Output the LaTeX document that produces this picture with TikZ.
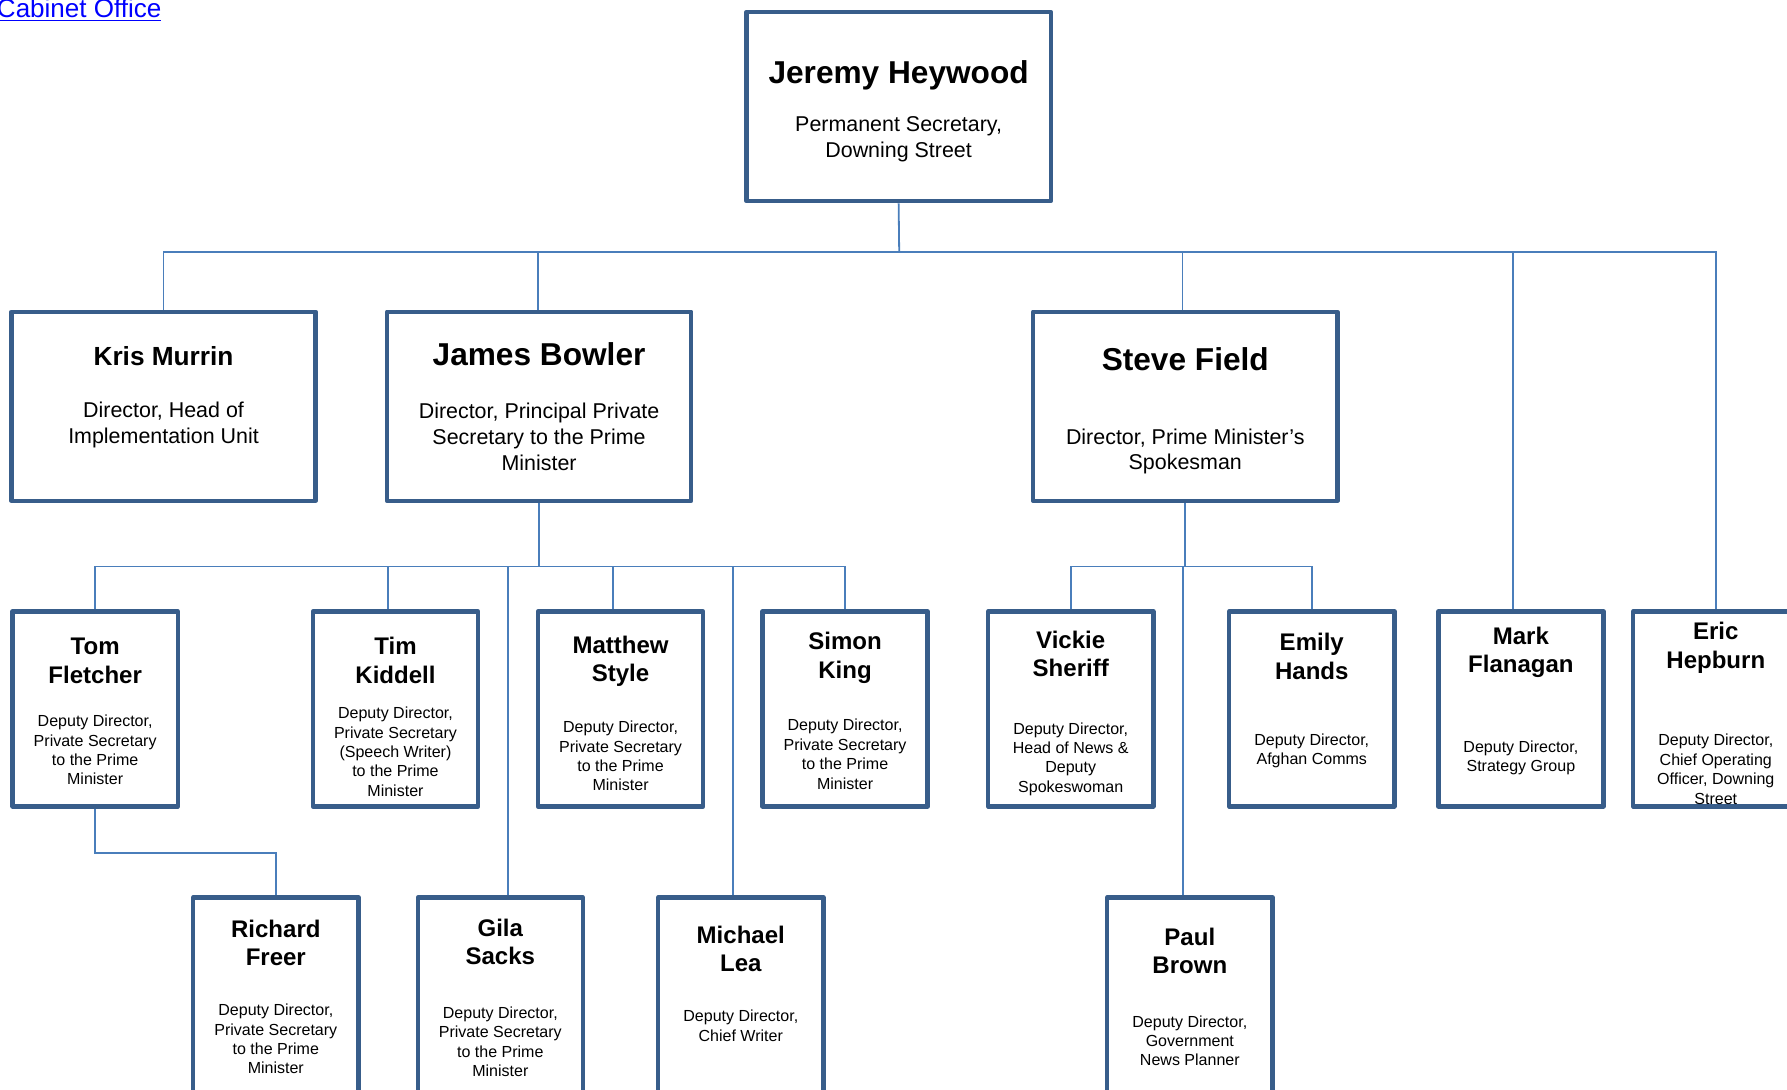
\documentclass[tikz,border=0pt]{standalone}
\usepackage{fontspec}
\setmainfont{Liberation Sans}
\definecolor{boxblue}{HTML}{385D8A}
\definecolor{lineblue}{HTML}{4A7EBB}
\definecolor{linkblue}{HTML}{0000FF}
\newcommand\bigname{\fontsize{15.8}{18.5}\selectfont\bfseries}
\newcommand\midname{\fontsize{13.1}{15.5}\selectfont\bfseries}
\newcommand\midrole{\fontsize{10.7}{12.8}\selectfont}
\newcommand\smallname{\fontsize{12}{14.2}\selectfont\bfseries}
\newcommand\smallrole{\fontsize{8}{9.7}\selectfont}
% extra space under the text, moves it up (or down, if negative)
\newcommand\textlift[1]{\par\vspace{#1}\hrule height0pt width0pt}
\begin{document}
\begin{tikzpicture}[x=0.02cm, y=-0.02cm,
    chief/.style={draw=boxblue, line width=2.2pt, line join=round, fill=white, minimum width=5.34cm, minimum height=3.32cm, text width=5cm, align=flush center, inner sep=0.05cm},
    deputy/.style={draw=boxblue, line width=2.2pt, line join=round, fill=white, minimum width=2.9cm, minimum height=3.42cm, text width=2.7cm, align=flush center, inner sep=0.05cm},
    link/.style={draw=lineblue, line width=0.9pt}]
    \useasboundingbox (0,0) rectangle (1568,956);
    \clip (0,0) rectangle (1568,956);

    \node[anchor=base west, inner sep=0pt, text=linkblue, font=\fontsize{13}{15}\selectfont] (cablink) at (-3,15) {\underline{Cabinet Office}};

    % top of the tree
    \node[chief] (heywood) at (788.5,93.5) {{\bigname Jeremy Heywood\par}\vspace{11.2pt}{\midrole Permanent Secretary,\\Downing Street\par}\textlift{-4.5pt}};

    \node[chief] (murrin) at (143.5,356.5) {{\midname Kris Murrin\par}\vspace{13.4pt}{\midrole Director, Head of\\Implementation Unit\par}\textlift{9.1pt}};
    \node[chief] (bowler) at (473,356.5) {{\bigname James Bowler\par}\vspace{14pt}{\midrole Director, Principal Private\\Secretary to the Prime\\Minister\par}};
    \node[chief] (field) at (1040,356.5) {{\bigname Steve Field\par}\vspace{24.2pt}{\midrole Director, Prime Minister’s\\Spokesman\par}\textlift{-4.5pt}};

    % deputy directors
    \node[deputy] (fletcher) at (83.5,622) {{\smallname Tom\\Fletcher\par}\vspace{11.9pt}{\smallrole Deputy Director,\\Private Secretary\\to the Prime\\Minister\par}\textlift{-2.8pt}};
    \node[deputy] (kiddell) at (347,622) {{\smallname Tim\\Kiddell\par}\vspace{8pt}{\smallrole Deputy Director,\\Private Secretary\\(Speech Writer)\\to the Prime\\Minister\par}\textlift{-8pt}};
    \node[deputy] (mstyle) at (544.5,622) {{\smallname Matthew\\Style\par}\vspace{15.9pt}{\smallrole Deputy Director,\\Private Secretary\\to the Prime\\Minister\par}\textlift{-4.5pt}};
    \node[deputy] (king) at (741.5,622) {{\smallname Simon\\King\par}\vspace{16.5pt}{\smallrole Deputy Director,\\Private Secretary\\to the Prime\\Minister\par}\textlift{-2pt}};
    \node[deputy] (sheriff) at (939.5,622) {{\smallname Vickie\\Sheriff\par}\vspace{18.8pt}{\smallrole Deputy Director,\\Head of News \&\\Deputy\\Spokeswoman\par}\textlift{-4.5pt}};
    \node[deputy] (hands) at (1151,622) {{\smallname Emily\\Hands\par}\vspace{23.3pt}{\smallrole Deputy Director,\\Afghan Comms\par}\textlift{8pt}};
    \node[deputy] (flanagan) at (1334.5,622) {{\smallname Mark\\Flanagan\par}\vspace{30.2pt}{\smallrole Deputy Director,\\Strategy Group\par}\textlift{8pt}};
    \node[deputy] (hepburn) at (1505.5,622) {{\smallname Eric\\Hepburn\par}\vspace{29pt}{\smallrole Deputy Director,\\Chief Operating\\Officer, Downing\\Street\par}\textlift{-4.5pt}};

    \node[deputy] (freer) at (242,873) {{\smallname Richard\\Freer\par}\vspace{15.3pt}{\smallrole Deputy Director,\\Private Secretary\\to the Prime\\Minister\par}\textlift{-2pt}};
    \node[deputy] (sacks) at (439,873) {{\smallname Gila\\Sacks\par}\vspace{17pt}{\smallrole Deputy Director,\\Private Secretary\\to the Prime\\Minister\par}\textlift{-3pt}};
    \node[deputy] (lea) at (650,873) {{\smallname Michael\\Lea\par}\vspace{15.4pt}{\smallrole Deputy Director,\\Chief Writer\par}\textlift{11.4pt}};
    \node[deputy] (brown) at (1044,873) {{\smallname Paul\\Brown\par}\vspace{17pt}{\smallrole Deputy Director,\\Government\\News Planner\par}\textlift{-2pt}};

    % connectors
    \coordinate (topbus) at (789,221);
    \coordinate (bowlerbus) at (473,497);
    \coordinate (fieldbus) at (1040,497);
    \draw[link] (heywood.south) -- (topbus);
    \draw[link] (murrin.north) -- (murrin.north |- topbus) -- (hepburn.north |- topbus) -- (hepburn.north);
    \draw[link] ([xshift=-0.02cm]bowler.north) -- ([xshift=-0.02cm]bowler.north |- topbus);
    \draw[link] ([xshift=-0.05cm]field.north) -- ([xshift=-0.05cm]field.north |- topbus);
    \draw[link] ([xshift=-0.14cm]flanagan.north) -- ([xshift=-0.14cm]flanagan.north |- topbus);

    \draw[link] (bowler.south) -- (bowlerbus);
    \draw[link] (fletcher.north) -- (fletcher.north |- bowlerbus) -- (king.north |- bowlerbus) -- (king.north);
    \draw[link] ([xshift=-0.13cm]kiddell.north) -- ([xshift=-0.13cm]kiddell.north |- bowlerbus);
    \draw[link] ([xshift=0.13cm]sacks.north) -- ([xshift=0.13cm]sacks.north |- bowlerbus);
    \draw[link] ([xshift=-0.13cm]mstyle.north) -- ([xshift=-0.13cm]mstyle.north |- bowlerbus);
    \draw[link] ([xshift=-0.13cm]lea.north) -- ([xshift=-0.13cm]lea.north |- bowlerbus);
    \draw[link] (fletcher.south) -- ++(0,39) -| (freer.north);

    \draw[link] (field.south) -- (fieldbus);
    \draw[link] (sheriff.north) -- (sheriff.north |- fieldbus) -- (hands.north |- fieldbus) -- (hands.north);
    \draw[link] ([xshift=-0.12cm]brown.north) -- ([xshift=-0.12cm]brown.north |- fieldbus);
\end{tikzpicture}
\end{document}
